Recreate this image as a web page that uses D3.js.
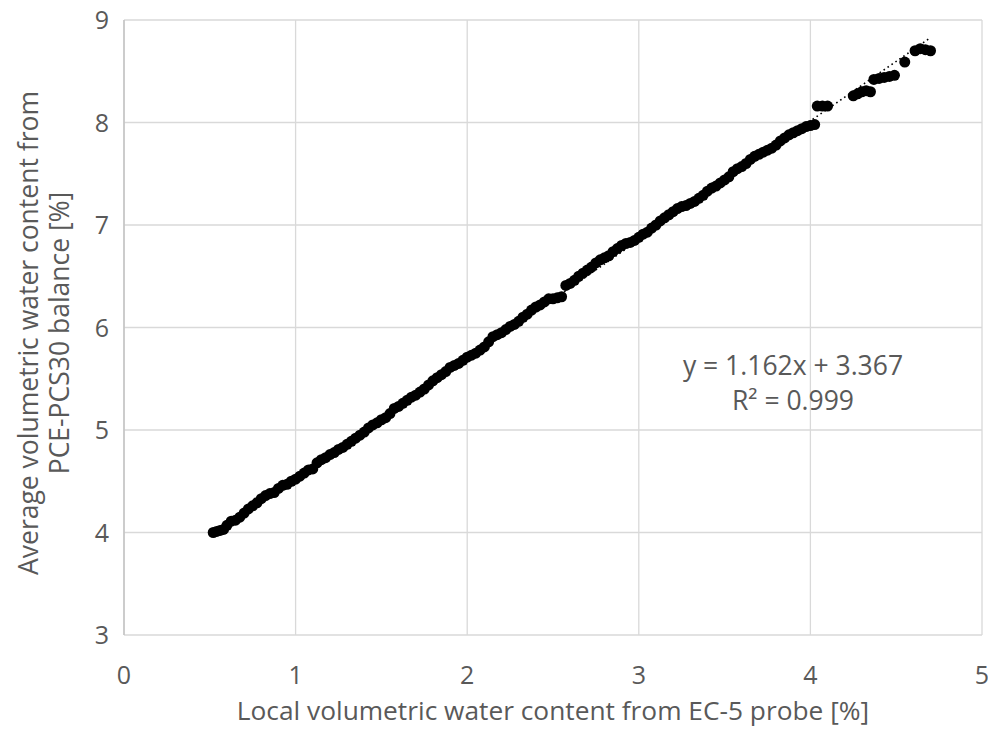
<!DOCTYPE html>
<html>
<head>
<meta charset="utf-8">
<script src="https://cdn.jsdelivr.net/npm/d3@7"></script>
<style>
  body { margin: 0; background: #fff; }
  svg { display: block; font-family: "Open Sans", sans-serif; }
</style>
</head>
<body>
<div id="chart"></div>
<script>
// local probe reading (x) vs balance reading (y), both in %
const probeVwc = [
  0.52, 0.54, 0.56, 0.58,
  0.600, 0.625, 0.650, 0.675, 0.700, 0.725, 0.750, 0.775, 0.800, 0.825,
  0.850, 0.875, 0.900, 0.925, 0.950, 0.975, 1.000, 1.025, 1.050, 1.075,
  1.100, 1.125, 1.150, 1.175, 1.200, 1.225, 1.250, 1.275, 1.300, 1.325,
  1.350, 1.375, 1.400, 1.425, 1.450, 1.475, 1.500, 1.525, 1.550, 1.575,
  1.600, 1.625, 1.650, 1.675, 1.700, 1.725, 1.750, 1.775, 1.800, 1.825,
  1.850, 1.875, 1.900, 1.925, 1.950, 1.975, 2.000, 2.025, 2.050, 2.075,
  2.100, 2.125, 2.150, 2.175, 2.200, 2.225, 2.250, 2.275, 2.300, 2.325,
  2.350, 2.375, 2.400, 2.425, 2.450, 2.475, 2.500, 2.525, 2.550, 2.575,
  2.600, 2.625, 2.650, 2.675, 2.700, 2.725, 2.750, 2.775, 2.800, 2.825,
  2.850, 2.875, 2.900, 2.925, 2.950, 2.975, 3.000, 3.025, 3.050, 3.075,
  3.100, 3.125, 3.150, 3.175, 3.200, 3.225, 3.250, 3.275, 3.300, 3.325,
  3.350, 3.375, 3.400, 3.425, 3.450, 3.475, 3.500, 3.525, 3.550, 3.575,
  3.600, 3.625, 3.650, 3.675, 3.700, 3.725, 3.750, 3.775, 3.800, 3.825,
  3.850, 3.875, 3.900, 3.925, 3.950, 3.975, 4.000, 4.025,
  4.04, 4.07, 4.10, 4.25, 4.275, 4.30, 4.325, 4.35, 4.37,
  4.40, 4.43, 4.46, 4.49, 4.55, 4.61, 4.64, 4.67, 4.70
];
const balanceVwc = [
  4.00, 4.01, 4.02, 4.03,
  4.07, 4.11, 4.12, 4.15, 4.19, 4.23, 4.26, 4.29, 4.33, 4.36,
  4.38, 4.39, 4.43, 4.46, 4.47, 4.50, 4.52, 4.55, 4.58, 4.61,
  4.62, 4.68, 4.71, 4.73, 4.76, 4.78, 4.81, 4.83, 4.86, 4.89,
  4.92, 4.95, 4.98, 5.02, 5.05, 5.07, 5.10, 5.12, 5.16, 5.21,
  5.23, 5.26, 5.29, 5.32, 5.34, 5.37, 5.40, 5.44, 5.48, 5.51,
  5.54, 5.57, 5.61, 5.63, 5.65, 5.68, 5.71, 5.73, 5.75, 5.78,
  5.81, 5.86, 5.91, 5.93, 5.95, 5.98, 6.01, 6.03, 6.06, 6.10,
  6.13, 6.17, 6.20, 6.22, 6.25, 6.28, 6.28, 6.29, 6.30, 6.41,
  6.43, 6.46, 6.50, 6.53, 6.56, 6.59, 6.63, 6.66, 6.68, 6.70,
  6.74, 6.77, 6.80, 6.82, 6.83, 6.85, 6.88, 6.91, 6.93, 6.97,
  7.00, 7.04, 7.07, 7.10, 7.13, 7.16, 7.18, 7.19, 7.21, 7.23,
  7.26, 7.29, 7.33, 7.36, 7.38, 7.41, 7.44, 7.47, 7.52, 7.55,
  7.57, 7.60, 7.64, 7.67, 7.69, 7.71, 7.73, 7.75, 7.78, 7.82,
  7.85, 7.88, 7.90, 7.92, 7.94, 7.96, 7.97, 7.98,
  8.16, 8.16, 8.16, 8.26, 8.28, 8.30, 8.31, 8.30, 8.42,
  8.43, 8.44, 8.45, 8.46, 8.59, 8.70, 8.72, 8.71, 8.70
];

const xTicks = [0, 1, 2, 3, 4, 5];
const yTicks = [3, 4, 5, 6, 7, 8, 9];

// linear trendline as printed on the chart
const trendSlope = 1.162;
const trendIntercept = 3.367;
const trendLabel = ["y = 1.162x + 3.367", "R² = 0.999"];

const xTitle = "Local volumetric water content from EC-5 probe [%]";
const yTitle = ["Average volumetric water content from", "PCE-PCS30 balance [%]"];

const width = 988, height = 730;
const margin = { top: 20, right: 6, bottom: 95, left: 124 };
const textColor = "#595959";

const svg = d3.select("#chart").append("svg")
    .attr("width", width)
    .attr("height", height);

const x = d3.scaleLinear().domain([0, 5]).range([margin.left, width - margin.right]);
const y = d3.scaleLinear().domain([3, 9]).range([height - margin.bottom, margin.top]);

// gridlines
svg.append("g")
    .selectAll("line")
    .data(xTicks)
    .join("line")
    .attr("x1", d => x(d)).attr("x2", d => x(d))
    .attr("y1", y(3)).attr("y2", y(9))
    .attr("stroke", "#d9d9d9")
    .attr("stroke-width", 1.3);

svg.append("g")
    .selectAll("line")
    .data(yTicks)
    .join("line")
    .attr("x1", x(0)).attr("x2", x(5))
    .attr("y1", d => y(d)).attr("y2", d => y(d))
    .attr("stroke", "#d9d9d9")
    .attr("stroke-width", 1.3);

// left axis line a touch darker
svg.append("line")
    .attr("x1", x(0)).attr("x2", x(0))
    .attr("y1", y(3)).attr("y2", y(9))
    .attr("stroke", "#bfbfbf")
    .attr("stroke-width", 1.3);

// tick labels
svg.append("g")
    .selectAll("text")
    .data(xTicks)
    .join("text")
    .attr("x", d => x(d))
    .attr("y", 684)
    .attr("text-anchor", "middle")
    .attr("fill", textColor)
    .style("font-size", "25px")
    .text(d => d);

svg.append("g")
    .selectAll("text")
    .data(yTicks)
    .join("text")
    .attr("x", 109)
    .attr("y", d => y(d) + 9)
    .attr("text-anchor", "end")
    .attr("fill", textColor)
    .style("font-size", "25px")
    .text(d => d);

// points
svg.append("g")
    .selectAll("circle")
    .data(d3.zip(probeVwc, balanceVwc))
    .join("circle")
    .attr("cx", d => x(d[0]))
    .attr("cy", d => y(d[1]))
    .attr("r", 5.5)
    .attr("fill", "#000");

// dotted trendline over the data range
const xExt = d3.extent(probeVwc);
svg.append("line")
    .attr("x1", x(xExt[0])).attr("y1", y(trendSlope * xExt[0] + trendIntercept))
    .attr("x2", x(xExt[1])).attr("y2", y(trendSlope * xExt[1] + trendIntercept))
    .attr("stroke", "#000")
    .attr("stroke-width", 1.6)
    .attr("stroke-dasharray", "1.6,3.2");

// equation label
svg.append("g")
    .selectAll("text")
    .data(trendLabel)
    .join("text")
    .attr("x", 793)
    .attr("y", (d, i) => 375 + i * 35)
    .attr("text-anchor", "middle")
    .attr("fill", textColor)
    .style("font-size", "26.5px")
    .text(d => d);

// axis titles
svg.append("text")
    .attr("x", (x(0) + x(5)) / 2)
    .attr("y", 720)
    .attr("text-anchor", "middle")
    .attr("fill", textColor)
    .style("font-size", "26.3px")
    .text(xTitle);

svg.append("g")
    .attr("transform", "translate(0,333) rotate(-90)")
    .selectAll("text")
    .data(yTitle)
    .join("text")
    .attr("x", 0)
    .attr("y", (d, i) => 38 + i * 31)
    .attr("text-anchor", "middle")
    .attr("fill", textColor)
    .style("font-size", "26.5px")
    .text(d => d);
</script>
</body>
</html>
